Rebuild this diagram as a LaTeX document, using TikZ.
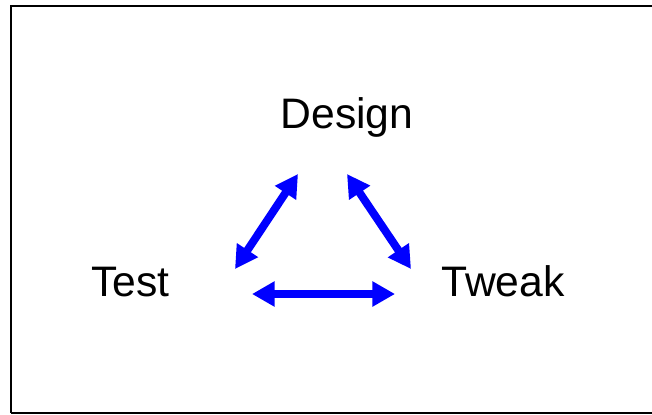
\documentclass[tikz,border=0pt]{standalone}
\usepackage{fontspec}
\setmainfont{Liberation Sans}
\usetikzlibrary{arrows.meta}
\begin{document}
\begin{tikzpicture}[x=0.75pt,y=-0.75pt,
  label/.style={inner sep=0pt,anchor=base,font=\fontsize{32}{36}\selectfont},
  link/.style={draw=blue,line width=6pt,
    {Triangle[length=17pt,width=18pt]}-{Triangle[length=17pt,width=18pt]}}]
  \clip (0,0) rectangle (652,414);
  % frame
  \draw[line width=1.5pt] (10.5,412.5) -- (10.5,5.5) -- (660,5.5);
  \draw[line width=1.5pt] (10.5,412.5) -- (660,412.5);
  % labels
  \node[label] (design) at (347,128) {Design};
  \node[label] (test) at (130.5,296) {Test};
  \node[label] (tweak) at (503,296) {Tweak};
  % arrow end points
  \coordinate (dl) at (298,174);
  \coordinate (tl) at (235,269);
  \coordinate (dr) at (347,174);
  \coordinate (kr) at (411,269);
  \coordinate (tb) at (252,294);
  \coordinate (kb) at (395,294);
  % two-way arrows
  \draw[link] (tl) -- (dl);
  \draw[link] (dr) -- (kr);
  \draw[link] (tb) -- (kb);
\end{tikzpicture}
\end{document}
